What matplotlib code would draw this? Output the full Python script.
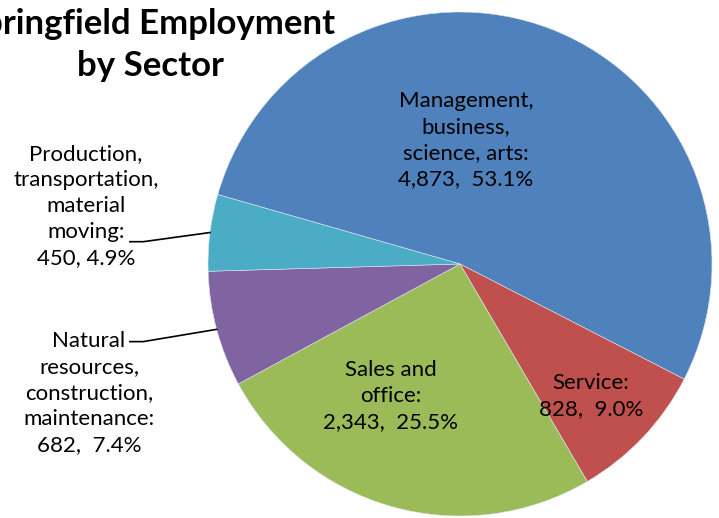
import numpy as np
import matplotlib.pyplot as plt

# data
sectors = ['Management,\nbusiness,\nscience, arts:', 'Service:', 'Sales and\noffice:',
           'Natural\nresources,\nconstruction,\nmaintenance:',
           'Production,\ntransportation,\nmaterial\nmoving:']
values = [4873, 828, 2343, 682, 450]
value_text = ['4,873,  53.1%', '828,  9.0%', '2,343,  25.5%', '682,  7.4%', '450, 4.9%']
colors = ['#4F81BD', '#C0504D', '#9BBB59', '#8064A2', '#4BACC6']

plt.rcParams['font.family'] = ['Lato', 'DejaVu Sans']

fig = plt.figure(figsize=(7.19, 5.18), dpi=100)
# pie box: centre (460, 264) px, radius 252 px
ax = fig.add_axes([208 / 719, (518 - 516) / 518, 504 / 719, 504 / 518])

wedges, _ = ax.pie(values, colors=colors, startangle=164, counterclock=False,
                   wedgeprops=dict(edgecolor='#dde6f0', linewidth=0.4))
ax.set_xlim(-1, 1)
ax.set_ylim(-1, 1)

label_pos = [(0.023, 0.492), (0.52, -0.524), (-0.274, -0.524),
             (-1.472, -0.512), (-1.484, 0.230)]
for name, vt, (x, y) in zip(sectors, value_text, label_pos):
    ax.text(x, y, name + '\n' + vt, ha='center', va='center', fontsize=16,
            linespacing=1.38, color='black')

# leader lines for the two small slices
leaders = {4: (-1.310, 0.0885), 3: (-1.310, -0.308)}
for i, (lx, ly) in leaders.items():
    w = wedges[i]
    mid = np.deg2rad((w.theta1 + w.theta2) / 2)
    ax.plot([lx, lx + 0.053, np.cos(mid)], [ly, ly, np.sin(mid)],
            color='black', lw=1.2, clip_on=False)

fig.text(150 / 719, 1 - 45 / 518, 'Springfield Employment\nby Sector', ha='center',
         va='center', fontsize=25, fontweight='bold', linespacing=1.42)

fig.savefig('out.png', dpi=100)
